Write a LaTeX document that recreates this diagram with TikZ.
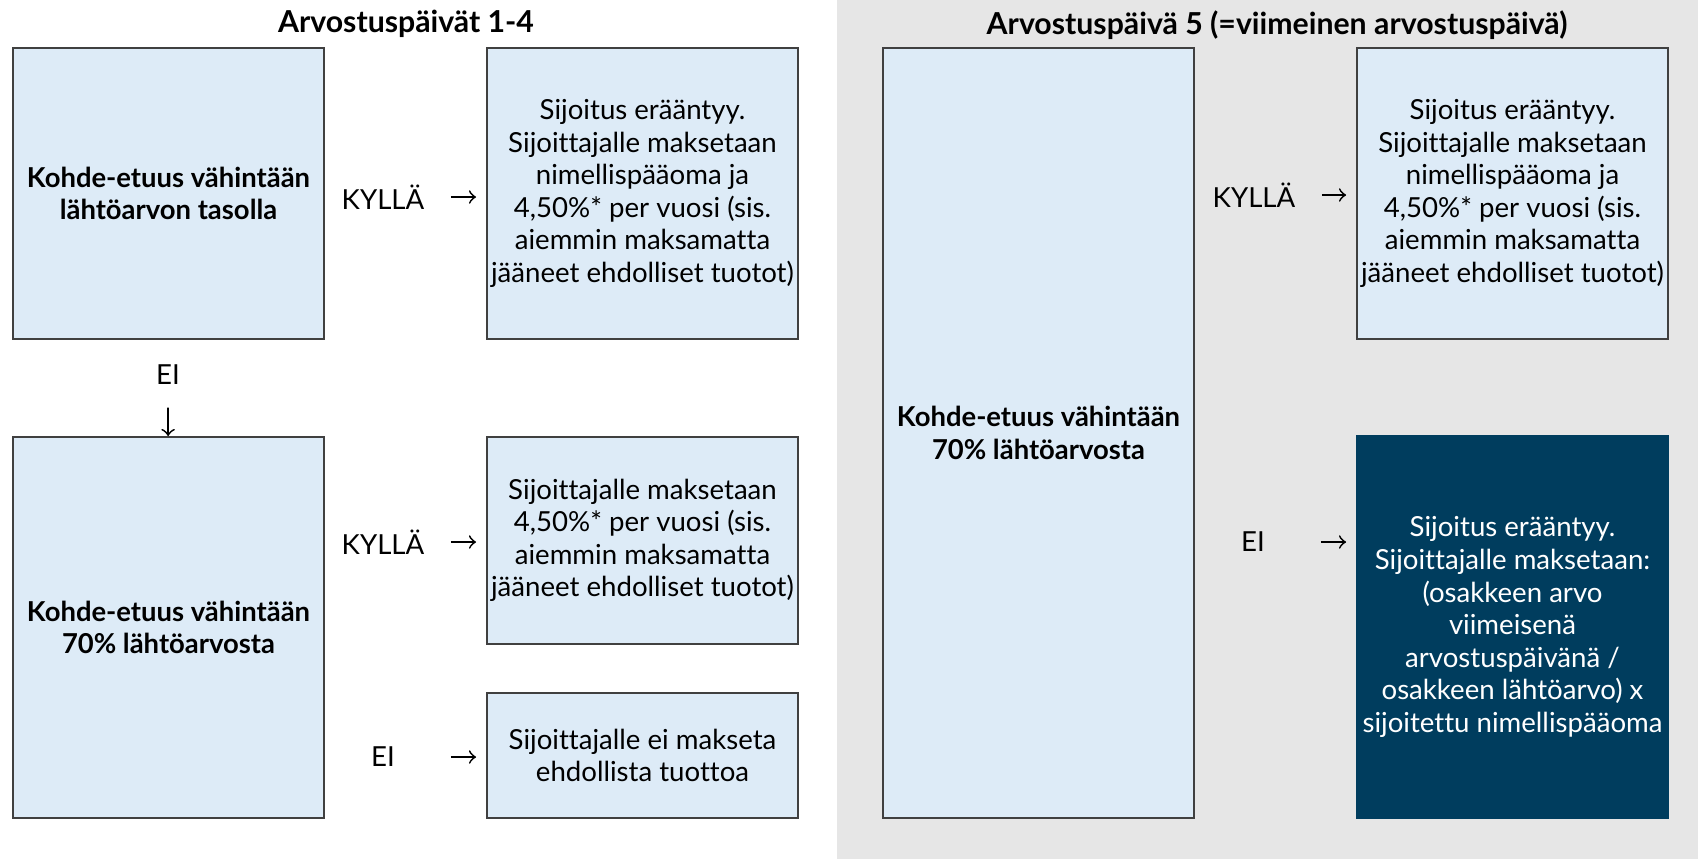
\documentclass[tikz,border=0pt]{standalone}
\usepackage{fontspec}
\setmainfont[Ligatures=NoCommon]{Lato}
\definecolor{bleuclair}{HTML}{DDEBF7}
\definecolor{bleufonce}{HTML}{003D5E}
\definecolor{grisfond}{HTML}{E6E6E6}
\definecolor{bord}{HTML}{404040}
\begin{document}
\begin{tikzpicture}[x=0.01cm, y=-0.01cm]
  \tikzstyle{boite}=[rectangle, draw=bord, line width=0.5pt, fill=bleuclair,
  text centered, align=center, text=black, minimum width=3.11cm, inner sep=0pt,
  font=\fontsize{7.85}{9.25}\selectfont]
  \tikzstyle{gras}=[boite, font=\bfseries\fontsize{7.8}{9.25}\selectfont]
  \tikzstyle{sombre}=[boite, draw=bleufonce, fill=bleufonce, text=white]
  \tikzstyle{etiquette}=[minimum width=1.3cm, inner sep=0pt,
  font=\fontsize{7.85}{9.25}\selectfont]
  \tikzstyle{titre}=[font=\bfseries\fontsize{8.6}{10}\selectfont]
  \tikzstyle{fleche}=[->, line width=0.5pt, shorten <=0.02cm, shorten >=0.1cm]
  \useasboundingbox (0,0) rectangle (1698,859);
  \fill[grisfond] (837,0) rectangle (1698,859);
  % titres
  \node[titre] (t1) at (406,24) {Arvostuspäivät 1-4};
  \node[titre] (t2) at (1277,25) {Arvostuspäivä 5 (=viimeinen arvostuspäivä)};
  % arvostuspäivät 1-4
  \node[gras, minimum height=2.91cm] (a) at (168.5,193.5)
    {Kohde-etuus vähintään\\lähtöarvon tasolla};
  \node[boite, minimum height=2.91cm] (b) at (642.5,193.5)
    {Sijoitus erääntyy.\\Sijoittajalle maksetaan\\nimellispääoma ja\\4,50\%* per vuosi (sis.\\aiemmin maksamatta\\jääneet ehdolliset tuotot)};
  \node[gras, minimum height=3.81cm] (c) at (168.5,627.5)
    {Kohde-etuus vähintään\\70\% lähtöarvosta};
  \node[boite, minimum height=2.07cm] (d) at (642.5,540.5)
    {Sijoittajalle maksetaan\\4,50\%* per vuosi (sis.\\aiemmin maksamatta\\jääneet ehdolliset tuotot)};
  \node[boite, minimum height=1.25cm] (e) at (642.5,755.5)
    {Sijoittajalle ei makseta\\ehdollista tuottoa};
  \node[etiquette] (k1) at (383,197) {KYLLÄ};
  \node[etiquette] (e1) at (168,375) {EI};
  \node[etiquette] (k2) at (383,542) {KYLLÄ};
  \node[etiquette] (e2) at (383,757) {EI};
  % arvostuspäivä 5
  \node[gras, minimum height=7.7cm] (f) at (1038.5,433)
    {Kohde-etuus vähintään\\70\% lähtöarvosta};
  \node[boite, minimum height=2.91cm] (g) at (1512.5,193.5)
    {Sijoitus erääntyy.\\Sijoittajalle maksetaan\\nimellispääoma ja\\4,50\%* per vuosi (sis.\\aiemmin maksamatta\\jääneet ehdolliset tuotot)};
  \node[sombre, minimum height=3.82cm] (h) at (1512.5,627)
    {Sijoitus erääntyy.\\Sijoittajalle maksetaan:\\(osakkeen arvo\\viimeisenä\\arvostuspäivänä /\\osakkeen lähtöarvo) x\\sijoitettu nimellispääoma};
  \node[etiquette] (k3) at (1254,195) {KYLLÄ};
  \node[etiquette] (e3) at (1253,542) {EI};
  % nuolet
  \foreach \a/\b in {k1/b,k2/d,e2/e,k3/g,e3/h} {
    \draw[fleche] (\a.east) -- (\a.east -| \b.west);
  }
  \draw[fleche, shorten <=0.22cm, shorten >=0pt] (e1) -- (c);
\end{tikzpicture}
\end{document}
